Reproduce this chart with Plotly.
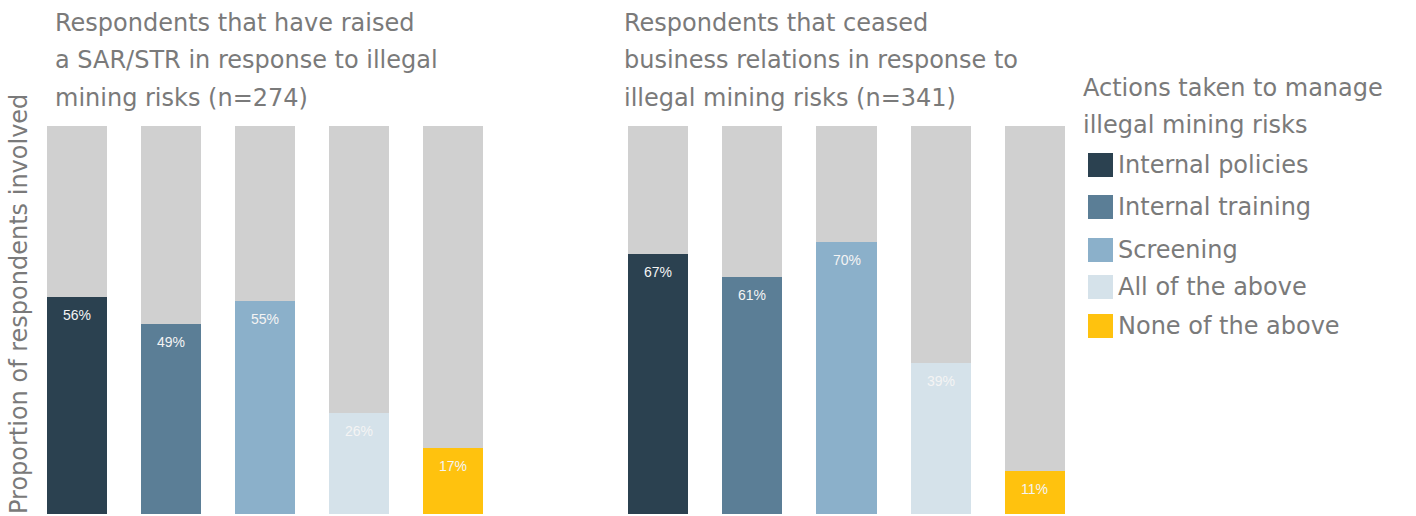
import plotly.graph_objects as go

# Survey results: share of respondents per action taken
actions = ["Internal policies", "Internal training", "Screening",
           "All of the above", "None of the above"]
sar_str_pct = [56, 49, 55, 26, 17]          # raised a SAR/STR (n=274)
ceased_pct = [67, 61, 70, 39, 11]           # ceased business relations (n=341)

left_title = ["Respondents that have raised",
              "a SAR/STR in response to illegal",
              "mining risks (n=274)"]
right_title = ["Respondents that ceased",
               "business relations in response to",
               "illegal mining risks (n=341)"]
legend_title = ["Actions taken to manage", "illegal mining risks"]
y_title = "Proportion of respondents involved"

colors = ["#2b4150", "#5b7e96", "#8bb0ca", "#d5e2ea", "#ffc20e"]
rest_color = "#d0d0d0"
text_grey = "#7a7a7a"
FONT = "DejaVu Sans"
FS = 24

W, H = 1416, 516
top, bottom = 126, 2
plot_h = H - top - bottom


def py(pixel_y):
    """Convert a pixel row (from the top of the page) to paper y."""
    return (H - bottom - pixel_y) / plot_h


fig = go.Figure()

panels = [("x", "y", sar_str_pct), ("x2", "y2", ceased_pct)]
for xa, ya, vals in panels:
    for i, (name, v) in enumerate(zip(actions, vals)):
        fig.add_trace(go.Bar(
            x=[i], y=[v], name=name, marker=dict(color=colors[i], line_width=0),
            xaxis=xa, yaxis=ya, showlegend=False, hoverinfo="skip"))
        fig.add_trace(go.Bar(
            x=[i], y=[100 - v], marker=dict(color=rest_color, line_width=0),
            xaxis=xa, yaxis=ya, showlegend=False, hoverinfo="skip"))
        fig.add_annotation(
            x=i, y=v, xref=xa, yref=ya, text=f"{v}%", showarrow=False,
            yanchor="top", yshift=-8,
            font=dict(family="Arial", size=14, color="#f4f4f4"))

ax = dict(showticklabels=False, showgrid=False, zeroline=False,
          showline=False, ticks="", range=[-0.5, 4.5], fixedrange=True)
ay = dict(showticklabels=False, showgrid=False, zeroline=False,
          showline=False, ticks="", range=[0, 100], fixedrange=True)

fig.update_layout(
    width=W, height=H, barmode="stack", bargap=0.36,
    margin=dict(l=0, r=0, t=top, b=bottom),
    paper_bgcolor="white", plot_bgcolor="white",
    font=dict(family=FONT, color=text_grey),
    showlegend=False,
    xaxis=dict(ax, domain=[30 / W, 500 / W]),
    xaxis2=dict(ax, domain=[611 / W, 1082 / W]),
    yaxis=dict(ay, domain=[0, 1]),
    yaxis2=dict(ay, domain=[0, 1], anchor="x2"),
)


def text_line(x_px, y_px, text, size=FS):
    fig.add_annotation(
        xref="paper", yref="paper", x=x_px / W, y=py(y_px),
        xanchor="left", yanchor="middle", align="left", showarrow=False,
        text=text, font=dict(family=FONT, size=size, color=text_grey))


# Panel titles, one line at a time for wider line spacing
for k, line in enumerate(left_title):
    text_line(53, 23 + 37.5 * k, line)
for k, line in enumerate(right_title):
    text_line(622, 23 + 37.5 * k, line)

# Legend: title plus a square swatch per action
for k, line in enumerate(legend_title):
    text_line(1081, 88 + 37 * k, line)
legend_rows = [165, 207, 250, 287, 326]
for name, col, yc in zip(actions, colors, legend_rows):
    fig.add_shape(type="rect", xref="paper", yref="paper",
                  x0=1088 / W, x1=1113 / W, y0=py(yc + 12), y1=py(yc - 12),
                  fillcolor=col, line_width=0)
    text_line(1116, yc, name)

# Shared y-axis title
fig.add_annotation(
    xref="paper", yref="paper", x=19 / W, y=py(304),
    xanchor="center", yanchor="middle", textangle=-90, showarrow=False,
    text=y_title, font=dict(family=FONT, size=FS, color=text_grey))

fig.write_html("out.html")
